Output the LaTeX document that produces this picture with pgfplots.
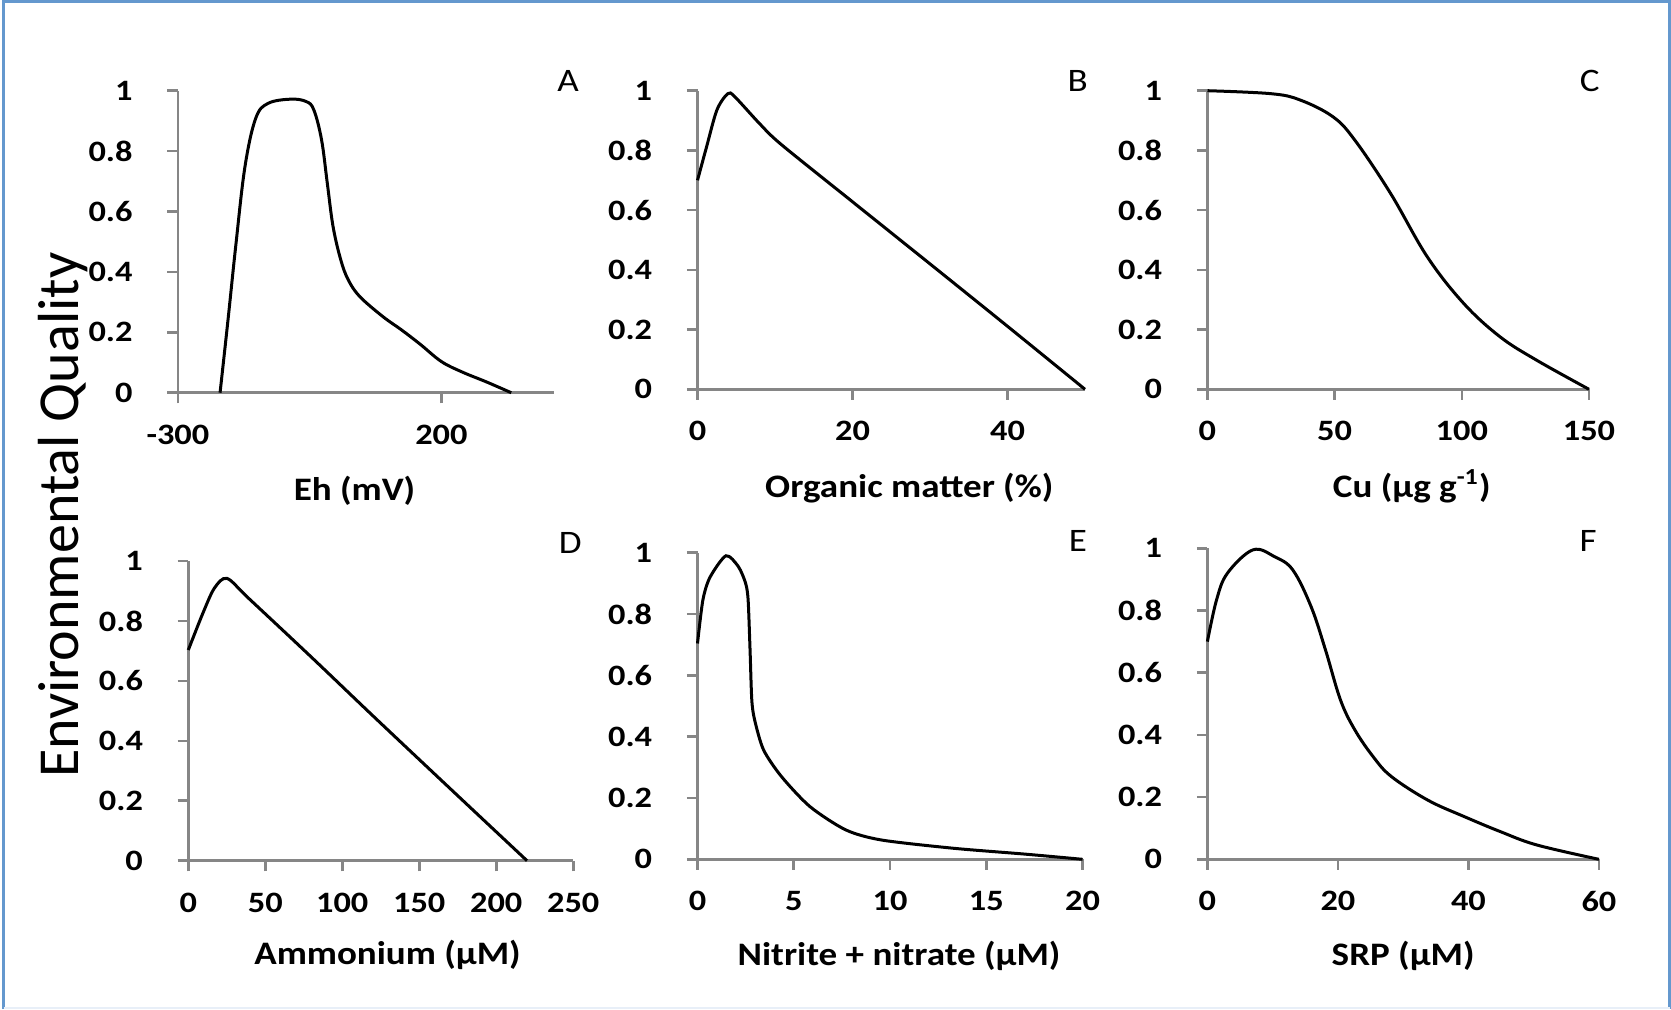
\documentclass[border=0pt]{standalone}
\usepackage{fontspec}
\setmainfont{Carlito}
\usepackage{pgfplots}
\pgfplotsset{compat=1.18}

\definecolor{axgray}{RGB}{134,134,134}
\definecolor{frameblue}{RGB}{100,152,206}

\pgfplotsset{
  panel/.style={
    scale only axis, anchor=south west, clip=false,
    axis lines=left,
    axis line style={-, draw=axgray, line width=1.3pt},
    every tick/.style={draw=axgray, line width=1.3pt},
    tick align=outside, major tick length=5.3pt,
    ymin=0, ymax=1, ytick={0,0.2,0.4,0.6,0.8,1},
    /pgf/number format/assume math mode=true,
    tick label style={font=\fontsize{14.8}{16}\selectfont\bfseries, xscale=1.16},
    yticklabel style={anchor=east, inner sep=0pt, xshift=-14.8pt},
    xticklabel style={anchor=north, inner sep=0pt, yshift=-10.5pt},
    xlabel style={at={(axis description cs:0.5,0)}, anchor=base, yshift=-54pt,
      font=\fontsize{16.4}{18}\selectfont\bfseries, xscale=1.13},
  },
  curve/.style={black, line width=1.5pt, smooth, tension=0.6, no markers},
}

\begin{document}
\begin{tikzpicture}
\path[use as bounding box] (0,0) rectangle (835.5pt,504.5pt);

% frame round the figure
\draw[frameblue, line width=1.5pt] (1.75pt,0) -- (1.75pt,503.8pt) -- (834.9pt,503.8pt) -- (834.9pt,0);
\draw[frameblue!15, line width=1pt] (1.75pt,0.6pt) -- (834.9pt,0.6pt);

\node[rotate=90, anchor=base, font=\fontsize{29}{32}\selectfont] at (39pt,247pt) {Environmental Quality};

% A: Eh
\begin{axis}[panel, at={(88.95pt,308.15pt)}, width=187.9pt, height=151pt,
    xmin=-300, xmax=413, xtick={-300,200}, xticklabels={-300,200},
    xlabel={Eh (mV)}, xlabel style={xshift=-5pt}]
  \addplot[curve] coordinates {
    (-220,0) (-205,0.24) (-190,0.49) (-172.8,0.748) (-152.5,0.908) (-129,0.958)
    (-85.6,0.972) (-56.5,0.964) (-42,0.936) (-27.4,0.837) (-16.5,0.693)
    (-5.6,0.55) (9,0.44) (23.4,0.373) (45.3,0.318) (88.9,0.252) (125,0.207)
    (160,0.16) (200,0.103) (240,0.068) (285,0.036) (332.4,0)};
\end{axis}

% B: organic matter
\begin{axis}[panel, at={(348.75pt,309.85pt)}, width=193.75pt, height=149.3pt,
    xmin=0, xmax=50, xtick={0,20,40},
    xlabel={Organic matter (\%)}, xlabel style={xshift=8pt}]
  \addplot[curve, tension=0.5] coordinates {
    (0,0.70) (1.15,0.81) (2.5,0.935) (3.9,0.99) (4.8,0.98) (8,0.89) (10.8,0.82)
    (20,0.628) (30,0.42) (40,0.211) (50,0)};
\end{axis}

% C: Cu
\begin{axis}[panel, at={(603.7pt,309.85pt)}, width=190.8pt, height=149.3pt,
    xmin=0, xmax=150, xtick={0,50,100,150},
    xlabel={Cu (µg g\textsuperscript{-1})}, xlabel style={xshift=6pt}]
  \addplot[curve] coordinates {
    (0,1) (25,0.99) (36.4,0.969) (49.3,0.913) (57.9,0.835) (72,0.656)
    (86.4,0.444) (100.7,0.288) (115,0.176) (129.3,0.098) (150,0)};
\end{axis}

% D: ammonium
\begin{axis}[panel, at={(94.15pt,74.15pt)}, width=192.45pt, height=149.85pt,
    xmin=0, xmax=250, xtick={0,50,100,150,200,250},
    xlabel={Ammonium (µM)}, xlabel style={yshift=2pt, xshift=3pt}]
  \addplot[curve, tension=0.5] coordinates {
    (0,0.703) (9.4,0.825) (16.9,0.909) (25.1,0.942) (39.3,0.875) (80,0.679)
    (120,0.483) (170,0.241) (220,0)};
\end{axis}

% E: nitrite + nitrate
\begin{axis}[panel, at={(348.75pt,74.85pt)}, width=192.5pt, height=153.3pt,
    xmin=0, xmax=20, xtick={0,5,10,15,20},
    xlabel={Nitrite + nitrate (µM)}, xlabel style={yshift=1pt, xshift=4pt}]
  \addplot[curve, tension=0.45] coordinates {
    (0,0.704) (0.28,0.846) (0.65,0.92) (1.48,0.99) (2.13,0.954) (2.5,0.9)
    (2.63,0.846) (2.73,0.683) (2.82,0.52) (2.97,0.454) (3.43,0.357) (4.36,0.27)
    (5.84,0.172) (7.7,0.096) (9.55,0.063) (13.3,0.036) (17,0.017) (20,0)};
\end{axis}

% F: SRP
\begin{axis}[panel, at={(603.7pt,74.85pt)}, width=195.75pt, height=155.5pt,
    xmin=0, xmax=60, xtick={0,20,40,60},
    xlabel={SRP (µM)}, xlabel style={yshift=1pt}]
  \addplot[curve] coordinates {
    (0,0.70) (1.4,0.834) (3.07,0.92) (6.98,0.995) (10.3,0.973) (13.1,0.93)
    (15.9,0.812) (18.1,0.673) (20.4,0.512) (22.6,0.416) (25.4,0.33) (28.2,0.266)
    (33.8,0.19) (39.4,0.137) (44.9,0.089) (50.5,0.046) (60,0)};
\end{axis}

% panel letters
\begin{scope}[every node/.style={font=\fontsize{16.4}{18}\selectfont, xscale=1.13, anchor=base}]
  \node at (284.1pt,458.65pt) {A};
  \node at (538.9pt,458.65pt) {B};
  \node at (794.9pt,458.65pt) {C};
  \node at (285.1pt,227.8pt) {D};
  \node at (538.9pt,228.7pt) {E};
  \node at (794pt,228.7pt) {F};
\end{scope}
\end{tikzpicture}
\end{document}
